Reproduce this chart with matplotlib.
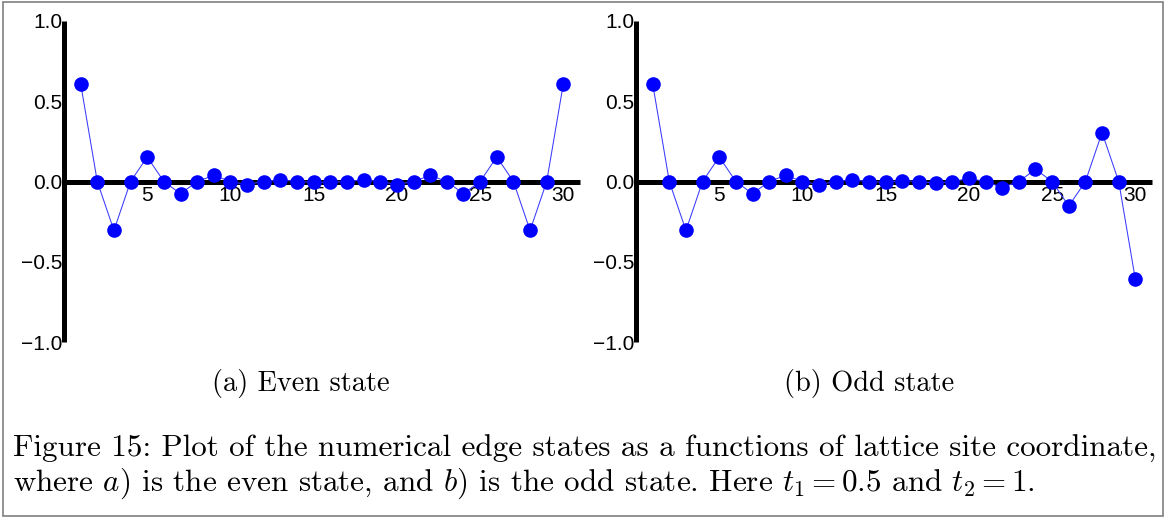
"""Plot numerical edge states against lattice site coordinate."""

import matplotlib

matplotlib.use("Agg")
import matplotlib.pyplot as plt
from matplotlib.patches import Rectangle

plt.rcParams["font.family"] = ["Liberation Sans", "DejaVu Sans"]
plt.rcParams["mathtext.fontset"] = "cm"
plt.rcParams["axes.unicode_minus"] = True

# lattice sites and edge-state amplitudes
sites = list(range(1, 31))
even_state = [
    0.61, 0.0, -0.305, 0.0, 0.153, 0.0, -0.076, 0.0, 0.038, 0.0,
    -0.019, 0.0, 0.010, 0.0, -0.005, -0.005, 0.0, 0.010, 0.0, -0.019,
    0.0, 0.038, 0.0, -0.076, 0.0, 0.153, 0.0, -0.305, 0.0, 0.61,
]
odd_state = [
    0.61, 0.0, -0.305, 0.0, 0.153, 0.0, -0.076, 0.0, 0.038, 0.0,
    -0.019, 0.0, 0.010, 0.0, -0.005, 0.005, 0.0, -0.010, 0.0, 0.019,
    0.0, -0.038, 0.0, 0.076, 0.0, -0.153, 0.0, 0.305, 0.0, -0.61,
]
x_ticks = [5, 10, 15, 20, 25, 30]
y_ticks = [-1.0, -0.5, 0.0, 0.5, 1.0]
sub_captions = ["(a) Even state", "(b) Odd state"]
caption_lines = [
    "Figure 15: Plot of the numerical edge states as a functions of lattice site coordinate,",
    r"where $a$) is the even state, and $b$) is the odd state. Here $t_1 = 0.5$ and $t_2 = 1$.",
]

W, H = 1165, 517
TEXT_FONT = "cmr10"


def draw_state(ax, values):
    """Draw one edge state with axes crossing at the origin."""
    ax.plot(sites, values, color="#3a3aff", lw=0.75, zorder=3, clip_on=False)
    ax.plot(sites, values, "o", color="#0000ff", ms=10.5, mew=0,
            zorder=4, clip_on=False)

    ax.set_xlim(0, 31)
    ax.set_ylim(-1, 1)
    for side in ("top", "right"):
        ax.spines[side].set_visible(False)
    for side in ("left", "bottom"):
        ax.spines[side].set_position(("data", 0))
        ax.spines[side].set_linewidth(3.6)
        ax.spines[side].set_capstyle("butt")

    ax.set_xticks(x_ticks)
    ax.set_yticks(y_ticks)
    ax.set_yticklabels([f"{v:.1f}".replace("-", "\u2212") for v in y_ticks])
    ax.tick_params(axis="x", length=0, pad=3, labelsize=15)
    ax.tick_params(axis="y", length=0, pad=1, labelsize=15)
    ax.patch.set_visible(False)


fig = plt.figure(figsize=(W / 100, H / 100), dpi=100)

bottom = 1 - 342 / H
height = 321 / H
ax_even = fig.add_axes([64 / W, bottom, 516 / W, height])
ax_odd = fig.add_axes([636 / W, bottom, 516 / W, height])
draw_state(ax_even, even_state)
draw_state(ax_odd, odd_state)

for x_px, text in zip([301, 869], sub_captions):
    fig.text(x_px / W, 1 - 383 / H, text, family=TEXT_FONT, fontsize=20.4,
             ha="center", va="center")

for y_px, text in zip([449, 484], caption_lines):
    fig.text(13 / W, 1 - y_px / H, text, family=TEXT_FONT, fontsize=22.4,
             ha="left", va="center")

fig.patches.append(Rectangle((3 / W, 1 / H), 1 - 5 / W, 1 - 3 / H,
                             transform=fig.transFigure, fill=False,
                             edgecolor="#7f7f7f", lw=1.2))

fig.savefig("out.png", dpi=100)
